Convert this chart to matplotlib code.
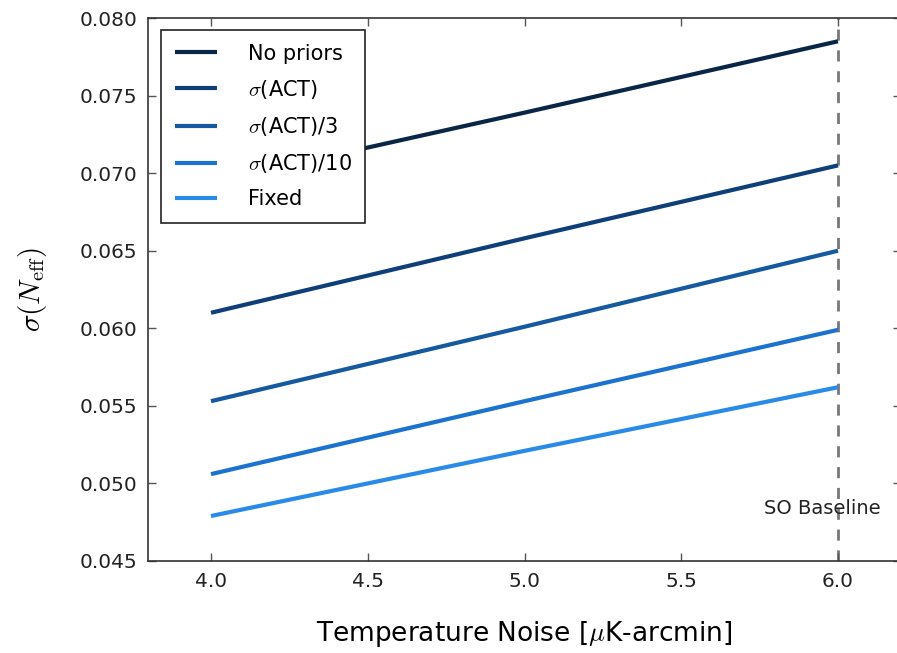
# Sigma(N_eff) vs temperature noise, com diferentes priors

import numpy as np
import matplotlib.pyplot as plt

# Dados
ruido = [4.0, 5.0, 6.0]
sem_priors = [0.0694, 0.0739, 0.0785]
sigma_act = [0.0610, 0.0658, 0.0705]
sigma_act_3 = [0.0553, 0.0601, 0.0650]
sigma_act_10 = [0.0506, 0.0553, 0.0599]
fixo = [0.0479, 0.0521, 0.0562]

rotulos = ['No priors', r'$\sigma$(ACT)', r'$\sigma$(ACT)/3', r'$\sigma$(ACT)/10', 'Fixed']
cores = ['#0a2646', '#0e3f78', '#15599f', '#1b72cf', '#2a8ae8']
baseline_x = 6.0

plt.rcParams['mathtext.fontset'] = 'cm'
plt.rcParams['font.family'] = ['DejaVu Sans']

fig = plt.figure(figsize=(8.97, 6.53), dpi=100)
ax = fig.add_axes([148.3 / 897, 92 / 653, 752.4 / 897, 543 / 653])

series = [sem_priors, sigma_act, sigma_act_3, sigma_act_10, fixo]
for valores, rotulo, cor in zip(series, rotulos, cores):
    ax.plot(ruido, valores, color=cor, lw=3, label=rotulo, solid_capstyle='butt')

ax.axvline(baseline_x, color='#777777', ls='--', lw=2, dashes=(4, 3.5), zorder=0)
ax.text(5.95, 0.0484, 'SO Baseline', ha='center', va='center', fontsize=14, color='#222222')

ax.set_xlim(3.8, 6.2)
ax.set_ylim(0.045, 0.080)
ax.set_xticks([4.0, 4.5, 5.0, 5.5, 6.0])
ax.set_xticklabels(['4.0', '4.5', '5.0', '5.5', '6.0'])
ax.set_yticks(np.arange(0.045, 0.0801, 0.005))
ax.set_yticklabels(['%.3f' % v for v in np.arange(0.045, 0.0801, 0.005)])
ax.tick_params(direction='in', length=6, width=1, top=True, right=True,
               labelsize=14.5, colors='#555555', labelcolor='#222222', pad=8)
for s in ax.spines.values():
    s.set_color('#333333')
    s.set_linewidth(1.2)

ax.set_xlabel(r'Temperature Noise [$\mu$K-arcmin]', fontsize=19, labelpad=20)
ax.set_ylabel(r'$\sigma(N_{\rm eff})$', fontsize=21, labelpad=22)

leg = ax.legend(loc='upper left', fontsize=15, frameon=True, fancybox=False,
                framealpha=1, handlelength=2.0, labelspacing=0.68, borderpad=0.65,
                handletextpad=1.5, borderaxespad=0, bbox_to_anchor=(13 / 752.4, 1 - 12 / 543))
leg.get_frame().set_edgecolor('#222222')
leg.get_frame().set_linewidth(1.2)

plt.savefig('out.png', dpi=100)
